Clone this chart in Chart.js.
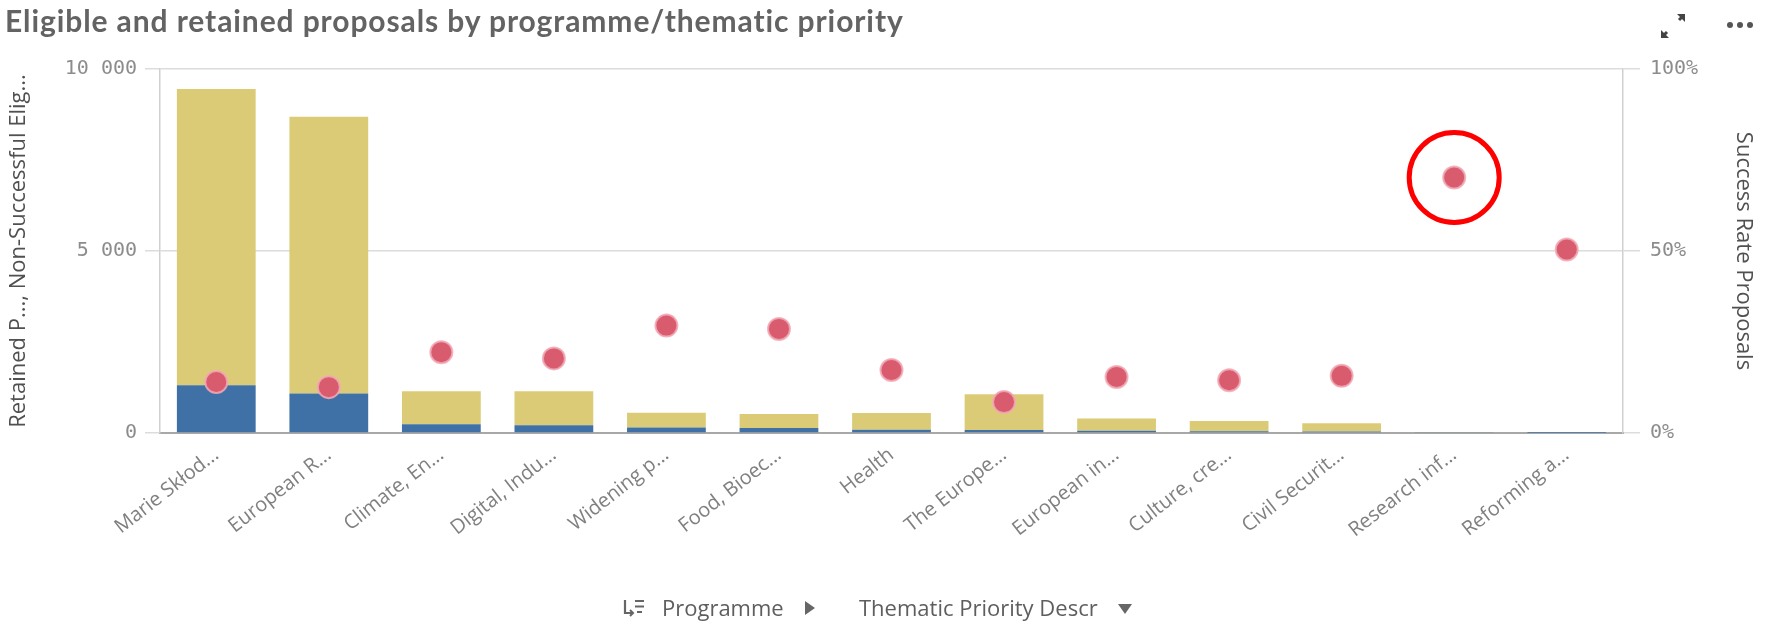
<!DOCTYPE html>
<html>
<head>
<meta charset="utf-8">
<script src="https://cdn.jsdelivr.net/npm/chart.js@4.4.1/dist/chart.umd.min.js"></script>
<style>
  html, body { margin: 0; padding: 0; background: #fff; }
  body { width: 1769px; height: 622px; position: relative; overflow: hidden; font-family: "Open Sans", sans-serif; }
  #title { position: absolute; left: 5px; top: 2px; font-family: Lato, sans-serif; font-weight: 700; font-size: 30px; color: #636363; letter-spacing: 0.9px; white-space: nowrap; }
  #chartBox { position: absolute; left: 0; top: 0; width: 1769px; height: 622px; }
  .foot { position: absolute; top: 592px; font-size: 22px; color: #5e5e5e; white-space: nowrap; line-height: 30px; }
  .icons { position: absolute; top: 8px; }
</style>
</head>
<body>
<div id="chartBox"><canvas id="proposalsChart" width="1769" height="622"></canvas></div>
<div id="title">Eligible and retained proposals by programme/thematic priority</div>
<svg class="icons" style="left:1655px" width="36" height="36" viewBox="0 0 36 36">
  <path d="M22 6 L30 6 L30 14 Z" fill="#444"/>
  <path d="M24 12 L28 8" stroke="#444" stroke-width="3"/>
  <path d="M6 30 L6 22 L14 30 Z" fill="#444"/>
  <path d="M8 28 L12 24" stroke="#444" stroke-width="3"/>
</svg>
<svg class="icons" style="left:1722px" width="40" height="36" viewBox="0 0 40 36">
  <circle cx="8" cy="17" r="3" fill="#555"/><circle cx="18" cy="17" r="3" fill="#555"/><circle cx="28" cy="17" r="3" fill="#555"/>
</svg>
<svg class="foot" style="left:623px;top:598px" width="22" height="20" viewBox="0 0 22 20">
  <path d="M2 2 V15 H10" stroke="#666" stroke-width="2.2" fill="none"/>
  <path d="M7 12 L10 15 L7 18" stroke="#666" stroke-width="2" fill="none"/>
  <path d="M12 3 H21 M12 8.5 H21 M14 14 H19" stroke="#666" stroke-width="2.2"/>
</svg>
<div class="foot" style="left:662px">Programme</div>
<svg class="foot" style="left:803px;top:600px" width="14" height="16" viewBox="0 0 14 16">
  <path d="M2 1 L12 8 L2 15 Z" fill="#666"/>
</svg>
<div class="foot" style="left:859px">Thematic Priority Descr</div>
<svg class="foot" style="left:1117px;top:602px" width="16" height="14" viewBox="0 0 16 14">
  <path d="M1 2 L15 2 L8 12 Z" fill="#666"/>
</svg>

<script>
// categories (truncated as shown on the axis)
const categories = [
  "Marie Skłod...", "European R...", "Climate, En...", "Digital, Indu...", "Widening p...",
  "Food, Bioec...", "Health", "The Europe...", "European in...", "Culture, cre...",
  "Civil Securit...", "Research inf...", "Reforming a..."
];

// retained proposals (blue, bottom of stack)
const retained = [1310, 1085, 240, 215, 150, 135, 90, 85, 60, 48, 42, 14, 2];

// non-successful eligible proposals (yellow, top of stack)
const nonSuccessful = [8140, 7605, 910, 935, 405, 385, 460, 980, 340, 280, 223, 6, 2];

// success rate (dots, right axis)
const successRate = [0.14, 0.126, 0.222, 0.205, 0.295, 0.286, 0.173, 0.085, 0.154, 0.145, 0.157, 0.702, 0.504];

const leftTicks = [0, 5000, 10000];
const rightTicks = [0, 0.5, 1];

const highlighted = "Research inf...";

const tickFont = { family: "'DejaVu Sans Mono', monospace", size: 20 };
const gridColor = "#dcdcdc";

function spaced(v) {
  return String(v).replace(/\B(?=(\d{3})+(?!\d))/g, " ");
}

const circlePlugin = {
  id: 'circleMark',
  afterDatasetsDraw(chart) {
    const meta = chart.getDatasetMeta(0);
    const idx = categories.indexOf(highlighted);
    const pt = meta.data[idx];
    if (!pt) return;
    const ctx = chart.ctx;
    ctx.save();
    ctx.beginPath();
    ctx.arc(pt.x, pt.y, 45, 0, Math.PI * 2);
    ctx.strokeStyle = "#ff0000";
    ctx.lineWidth = 5;
    ctx.stroke();
    ctx.restore();
  }
};

const ctx = document.getElementById('proposalsChart');
const proposalsChart = new Chart(ctx, {
  type: 'bar',
  data: {
    labels: categories,
    datasets: [
      {
        type: 'line',
        label: 'Success Rate Proposals',
        data: successRate,
        yAxisID: 'y1',
        showLine: false,
        pointRadius: 11,
        pointBackgroundColor: '#d95b6e',
        pointBorderColor: 'rgba(242,170,182,0.85)',
        pointBorderWidth: 2,
        order: 0
      },
      {
        label: 'Retained Proposals',
        data: retained,
        backgroundColor: '#3f70a6',
        yAxisID: 'y',
        stack: 's',
        order: 1
      },
      {
        label: 'Non-Successful Eligible Proposals',
        data: nonSuccessful,
        backgroundColor: '#dccb76',
        yAxisID: 'y',
        stack: 's',
        order: 2
      }
    ]
  },
  options: {
    responsive: false,
    animation: false,
    categoryPercentage: 0.7,
    barPercentage: 1.0,
    layout: { padding: { top: 69, right: 8, bottom: 0, left: 6 } },
    plugins: {
      legend: { display: false },
      tooltip: { enabled: false }
    },
    scales: {
      x: {
        stacked: true,
        afterFit: (axis) => { axis.height = 189; },
        grid: { display: false },
        border: { color: '#a8a8a8', width: 2 },
        ticks: {
          color: '#808080',
          font: { family: "'Open Sans', sans-serif", size: 20 },
          minRotation: 38,
          maxRotation: 38,
          autoSkip: false,
          padding: 2
        }
      },
      y: {
        stacked: true,
        position: 'left',
        min: 0,
        max: 10000,
        afterBuildTicks: (axis) => { axis.ticks = leftTicks.map(v => ({ value: v })); },
        afterFit: (axis) => { axis.width = 154; },
        grid: { color: gridColor, tickLength: 15, lineWidth: 1.5 },
        border: { color: '#d0d0d0', width: 1.5 },
        ticks: {
          color: '#8c8c8c',
          font: tickFont,
          padding: 8,
          callback: (v) => spaced(v)
        },
        title: {
          display: true,
          text: 'Retained P..., Non-Successful Elig...',
          color: '#505050',
          font: { family: "'Open Sans', sans-serif", size: 22 },
          padding: 0
        }
      },
      y1: {
        position: 'right',
        min: 0,
        max: 1,
        afterBuildTicks: (axis) => { axis.ticks = rightTicks.map(v => ({ value: v })); },
        afterFit: (axis) => { axis.width = 138; },
        grid: { drawOnChartArea: false, color: gridColor, tickLength: 17, lineWidth: 1.5 },
        border: { color: '#d0d0d0', width: 1.5 },
        ticks: {
          color: '#8c8c8c',
          font: tickFont,
          padding: 10,
          callback: (v) => Math.round(v * 100) + '%'
        },
        title: {
          display: true,
          text: 'Success Rate Proposals',
          color: '#505050',
          font: { family: "'Open Sans', sans-serif", size: 22 },
          padding: 5
        }
      }
    }
  },
  plugins: [circlePlugin]
});
</script>
</body>
</html>
